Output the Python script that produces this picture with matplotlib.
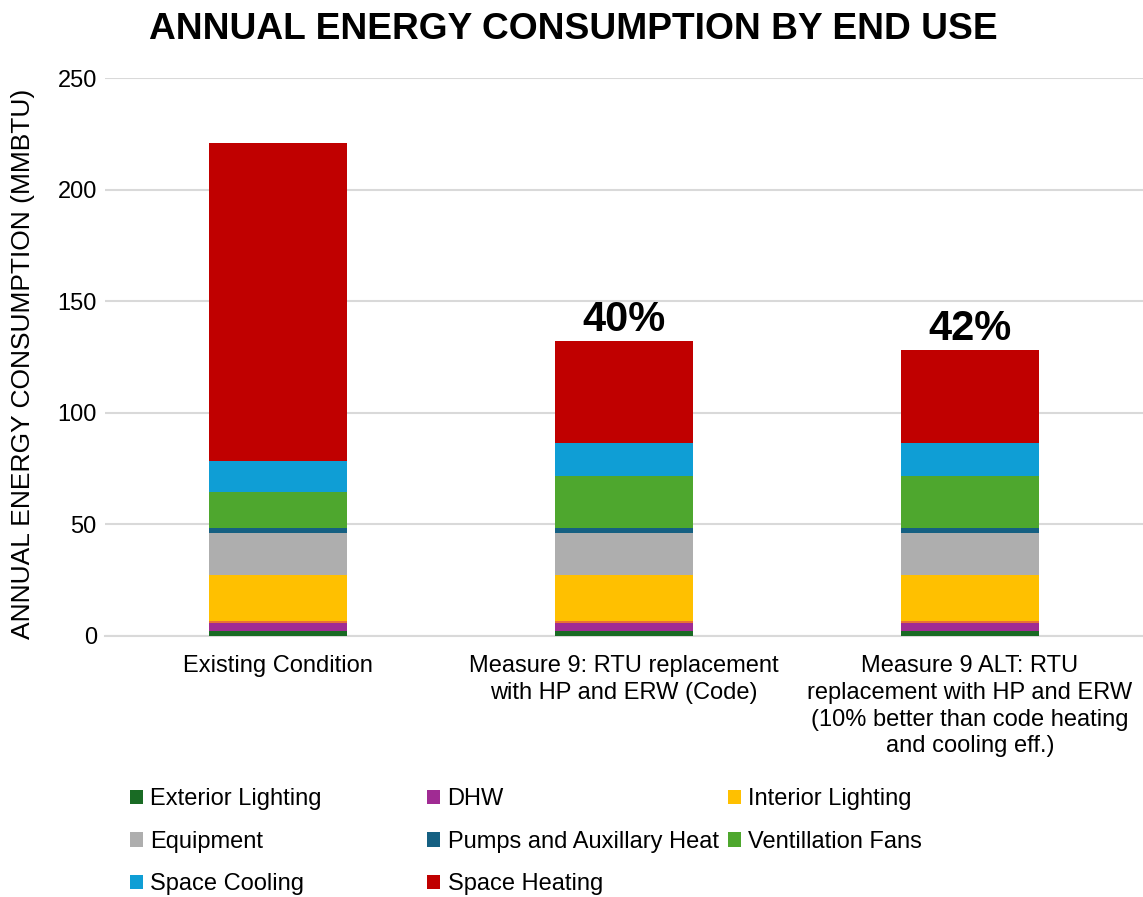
import numpy as np
import matplotlib
matplotlib.use("Agg")
import matplotlib.pyplot as plt
from matplotlib.patches import Patch

plt.rcParams["font.family"] = ["Liberation Sans", "DejaVu Sans"]

# Scenarios on the x axis
categories = [
    "Existing Condition",
    "Measure 9: RTU replacement\nwith HP and ERW (Code)",
    "Measure 9 ALT: RTU\nreplacement with HP and ERW\n(10% better than code heating\nand cooling eff.)",
]

# End-use consumption per scenario (MMBTU), stacked bottom to top
exterior_lighting = [2.4, 2.4, 2.4]
dhw = [3.6, 3.6, 3.6]
other = [0.7, 0.7, 0.7]
interior_lighting = [20.6, 20.6, 20.6]
equipment = [19.0, 19.0, 19.0]
pumps_aux_heat = [1.9, 1.9, 1.9]
ventilation_fans = [16.2, 23.5, 23.5]
space_cooling = [14.1, 14.6, 14.6]
space_heating = [142.5, 46.0, 41.9]

series = [
    ("Exterior Lighting", exterior_lighting, "#196B24"),
    ("DHW", dhw, "#A02B93"),
    ("_other", other, "#E97132"),
    ("Interior Lighting", interior_lighting, "#FFC000"),
    ("Equipment", equipment, "#AEAEAE"),
    ("Pumps and Auxillary Heat", pumps_aux_heat, "#156082"),
    ("Ventillation Fans", ventilation_fans, "#4EA72E"),
    ("Space Cooling", space_cooling, "#0F9ED5"),
    ("Space Heating", space_heating, "#C00000"),
]

fig = plt.figure(figsize=(11.43, 8.97), dpi=100)
ax = fig.add_axes([0.092, 0.291, 0.908, 0.622])

x = np.arange(len(categories))
bottom = np.zeros(len(categories))
for name, values, color in series:
    ax.bar(x, values, width=0.40, bottom=bottom, color=color,
           linewidth=0, zorder=3)
    bottom += np.array(values)

# Savings relative to the existing condition
totals = bottom
for i in range(1, len(categories)):
    pct = (totals[0] - totals[i]) / totals[0] * 100
    ax.text(x[i], totals[i] + 0.2, f"{pct:.0f}%", ha="center", va="bottom",
            fontsize=30, fontweight="bold", zorder=4)

ax.set_xlim(-0.5, len(categories) - 0.5)
ax.set_ylim(0, 250)
ax.set_yticks(np.arange(0, 251, 50))
ax.set_xticks(x)
ax.set_xticklabels(categories, fontsize=17, linespacing=1.27)
ax.tick_params(axis="both", length=0, labelsize=17)
ax.tick_params(axis="x", pad=14)
ax.tick_params(axis="y", pad=6)
ax.grid(axis="y", color="#D9D9D9", linewidth=1.5, zorder=0)
for side in ["top", "right", "left"]:
    ax.spines[side].set_visible(False)
ax.spines["bottom"].set_color("#D9D9D9")
ax.spines["bottom"].set_linewidth(1.5)

ax.set_ylabel("ANNUAL ENERGY CONSUMPTION (MMBTU)", fontsize=19)
ax.yaxis.set_label_coords(-0.068, 0.487)

fig.suptitle("ANNUAL ENERGY CONSUMPTION BY END USE", fontsize=26.7,
             fontweight="bold", x=0.502, y=0.987)

# Legend laid out as three equal-width columns, filled row by row
handles = {name: Patch(facecolor=color) for name, _, color in series}
columns = [
    ["Exterior Lighting", "Equipment", "Space Cooling"],
    ["DHW", "Pumps and Auxillary Heat", "Space Heating"],
    ["Interior Lighting", "Ventillation Fans"],
]
col_x = [0.114, 0.374, 0.637]
for names, cx in zip(columns, col_x):
    fig.legend([handles[n] for n in names], names, loc="upper left",
               bbox_to_anchor=(cx, 0.121), frameon=False, fontsize=17,
               handlelength=0.55, handleheight=0.55, handletextpad=0.3,
               labelspacing=0.86, borderpad=0, borderaxespad=0)

fig.savefig("out.png", dpi=100)
